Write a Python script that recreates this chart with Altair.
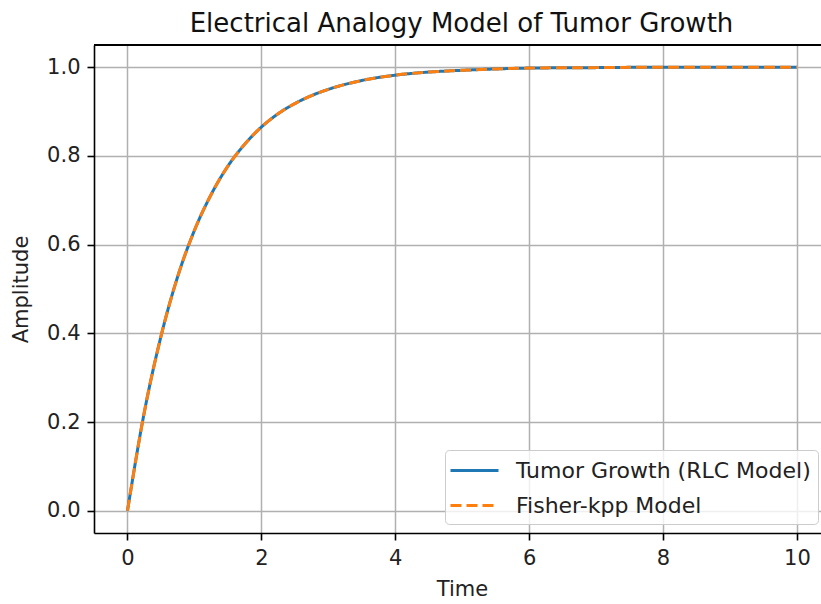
import altair as alt
import pandas as pd

# Values
time = [0.0, 0.25, 0.5, 0.75, 1.0, 1.25, 1.5, 1.75, 2.0, 2.25, 2.5, 2.75, 3.0,
        3.5, 4.0, 4.5, 5.0, 5.5, 6.0, 7.0, 8.0, 9.0, 10.0]
rlc = [0.0, 0.221, 0.393, 0.528, 0.632, 0.713, 0.777, 0.826, 0.865, 0.895, 0.918,
       0.936, 0.950, 0.970, 0.982, 0.989, 0.993, 0.996, 0.998, 0.999, 1.0, 1.0, 1.0]
fisher = [0.0, 0.221, 0.393, 0.528, 0.632, 0.713, 0.777, 0.826, 0.865, 0.895, 0.918,
          0.936, 0.950, 0.970, 0.982, 0.989, 0.993, 0.996, 0.998, 0.999, 1.0, 1.0, 1.0]
series_names = ["Tumor Growth (RLC Model)", "Fisher-kpp Model"]
series_colors = ["#1f77b4", "#ff7f0e"]
x_ticks = [0, 2, 4, 6, 8, 10]
y_ticks = [0.0, 0.2, 0.4, 0.6, 0.8, 1.0]

rows = []
for t, v in zip(time, rlc):
    rows.append({"Time": t, "Amplitude": v, "series": series_names[0]})
for t, v in zip(time, fisher):
    rows.append({"Time": t, "Amplitude": v, "series": series_names[1]})
df = pd.DataFrame(rows)

FONT = "DejaVu Sans"
W, H = 727, 488

x_enc = alt.X("Time:Q",
              scale=alt.Scale(domain=[-0.5, 10.36], nice=False, zero=False),
              axis=alt.Axis(values=x_ticks, format="d", title="Time",
                            titleX=368, titleY=56, titleBaseline="middle",
                            titleAlign="center"))
y_enc = alt.Y("Amplitude:Q",
              scale=alt.Scale(domain=[-0.05, 1.05], nice=False, zero=False),
              axis=alt.Axis(values=y_ticks, format=".1f", title="Amplitude",
                            titleX=-73, titleY=244, titleBaseline="middle",
                            titleAlign="center", titleAngle=270))
color_enc = alt.Color("series:N",
                      scale=alt.Scale(domain=series_names, range=series_colors),
                      legend=alt.Legend(orient="none", legendX=351, legendY=405,
                                        title=None, symbolType="M-2,0H2",
                                        symbolSize=576, symbolStrokeWidth=3,
                                        symbolOffset=9,
                                        labelFontSize=22, labelFont=FONT,
                                        labelColor="#222222",
                                        labelOffset=28, labelLimit=500,
                                        padding=7, rowPadding=10,
                                        fillColor="rgba(255,255,255,0.8)",
                                        strokeColor="#cccccc", cornerRadius=4))
dash_enc = alt.StrokeDash("series:N",
                          scale=alt.Scale(domain=series_names, range=[[1, 0], [11, 5]]),
                          legend=None)

base = alt.Chart(df).encode(x=x_enc, y=y_enc, color=color_enc, strokeDash=dash_enc)

blue = base.transform_filter(alt.datum.series == series_names[0]).mark_line(
    strokeWidth=3, interpolate="monotone")
orange = base.transform_filter(alt.datum.series == series_names[1]).mark_line(
    strokeWidth=3, interpolate="monotone")

top_border = alt.Chart(df).mark_rule(color="black", strokeWidth=1.6).encode(
    x=alt.value(0), x2=alt.value(W), y=alt.value(0))

chart = alt.layer(blue, orange, top_border).properties(
    width=W, height=H,
    background="white",
    autosize=alt.AutoSizeParams(type="none"),
    padding={"left": 94, "top": 45, "right": 0, "bottom": 71},
    title=alt.TitleParams("Electrical Analogy Model of Tumor Growth",
                          font=FONT, fontSize=26, fontWeight="normal",
                          color="#111111", anchor="middle", dx=4, offset=7),
).configure_view(stroke=None).configure_axis(
    labelFont=FONT, labelFontSize=21, labelColor="#222222",
    titleFont=FONT, titleFontSize=21, titleFontWeight="normal", titleColor="#222222",
    domainColor="black", domainWidth=1.6,
    tickColor="black", tickWidth=1.6, tickSize=7, labelPadding=7,
    grid=True, gridColor="#b0b0b0", gridWidth=1.5,
)

chart.save("out.html", embed_options={"renderer": "svg", "actions": False})
